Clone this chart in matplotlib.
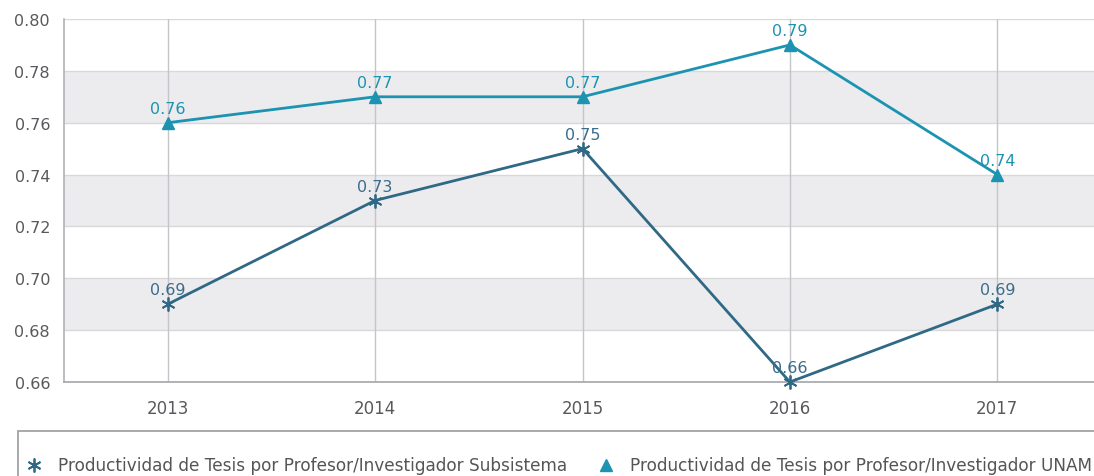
import matplotlib
matplotlib.use("Agg")
import matplotlib.pyplot as plt
from matplotlib.patches import Rectangle

years = ["2013", "2014", "2015", "2016", "2017"]
subsistema = [0.69, 0.73, 0.75, 0.66, 0.69]
unam = [0.76, 0.77, 0.77, 0.79, 0.74]
yticks = [0.66, 0.68, 0.70, 0.72, 0.74, 0.76, 0.78, 0.80]
name_sub = "Productividad de Tesis por Profesor/Investigador Subsistema"
name_unam = "Productividad de Tesis por Profesor/Investigador UNAM"

c_sub = "#2f6985"
c_unam = "#1b93b1"
c_lab_sub = "#3b6c8b"

fig = plt.figure(figsize=(10.94, 4.77), dpi=100)
ax = fig.add_axes([64/1094, 1-383/477, (1101-64)/1094, (383-20)/477])

x = list(range(len(years)))
ax.set_xlim(-0.5, 4.5)
ax.set_ylim(0.66, 0.80)

# alternating bands
for lo in [0.68, 0.72, 0.76]:
    ax.axhspan(lo, lo + 0.02, color="#ececee", zorder=0, lw=0)
for yv in yticks:
    ax.axhline(yv, color="#d8d8da", lw=1, zorder=0.5)
for xv in x:
    ax.axvline(xv, color="#c4c5c8", lw=1, zorder=0.6)

ax.plot(x, subsistema, color=c_sub, lw=2, marker=(6, 2, 0), ms=10, mew=1.3,
        mec=c_sub, zorder=3, label=name_sub, clip_on=False)
ax.plot(x, unam, color=c_unam, lw=2, marker="^", ms=8, mec=c_unam, mfc=c_unam,
        zorder=3, label=name_unam, clip_on=False)

for xi, v in zip(x, subsistema):
    ax.annotate(f"{v:.2f}", (xi, v), xytext=(0, 5), textcoords="offset points",
                ha="center", va="bottom", color=c_lab_sub, fontsize=11.5, zorder=4)
for xi, v in zip(x, unam):
    ax.annotate(f"{v:.2f}", (xi, v), xytext=(0, 5), textcoords="offset points",
                ha="center", va="bottom", color=c_unam, fontsize=11.5, zorder=4)

ax.set_xticks(x)
ax.set_xticklabels(years)
ax.set_yticks(yticks)
ax.set_yticklabels([f"{t:.2f}" for t in yticks])
ax.tick_params(axis="both", length=0, colors="#58595c", labelsize=11.5)
ax.tick_params(axis="x", pad=12, labelsize=12)
ax.tick_params(axis="y", pad=10)
for s in ["top", "right"]:
    ax.spines[s].set_visible(False)
ax.spines["left"].set_color("#b0b2b5")
ax.spines["bottom"].set_color("#a4a6a9")
ax.spines["left"].set_linewidth(1.2)
ax.spines["bottom"].set_linewidth(1.2)

# legend box (cropped)
fig.patches.append(Rectangle((18/1094, -0.1), 1.2, (477-432)/477 + 0.1,
                             transform=fig.transFigure, fill=False,
                             ec="#a0a2a5", lw=1.3))
fig.lines.append(plt.Line2D([34/1094], [1-466/477], transform=fig.transFigure,
                            marker=(6, 2, 0), ms=10, mew=1.3, color=c_sub, ls="none"))
fig.text(58/1094, 1-466/477, name_sub, color="#555558", fontsize=12.2, va="center", ha="left")
fig.lines.append(plt.Line2D([606/1094], [1-466/477], transform=fig.transFigure,
                            marker="^", ms=8, color=c_unam, ls="none"))
fig.text(630/1094, 1-466/477, name_unam, color="#555558", fontsize=12.2, va="center", ha="left")

fig.savefig("out.png", dpi=100)
